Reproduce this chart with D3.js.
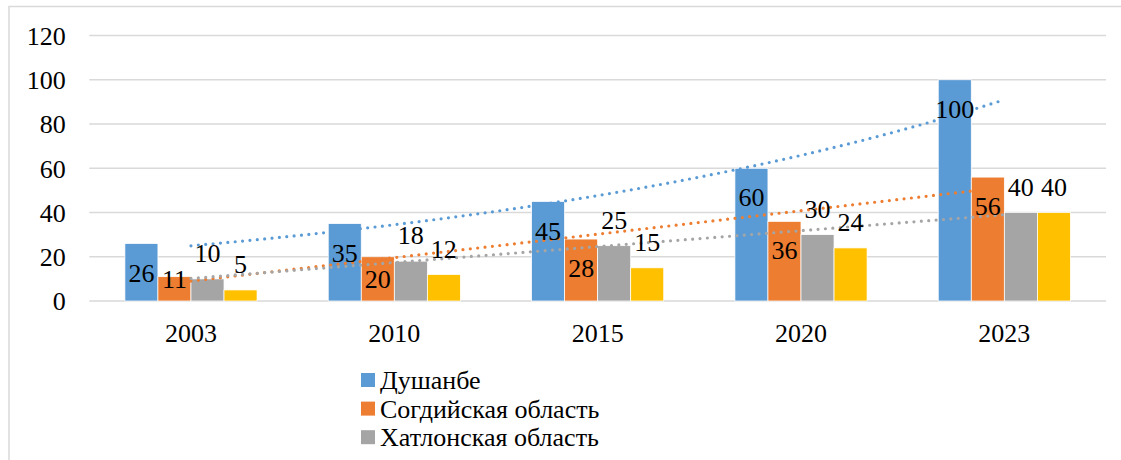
<!DOCTYPE html>
<html><head><meta charset="utf-8">
<script src="https://cdn.jsdelivr.net/npm/d3@7"></script>
<style>
html,body{margin:0;padding:0;background:#fff;}
svg text{font-family:"Liberation Serif","Times New Roman",Times,serif !important;}
</style></head>
<body><svg id="chart" width="1121" height="460"></svg>
<script>
const categories = ["2003","2010","2015","2020","2023"];
const seriesNames = ["Душанбе","Согдийская область","Хатлонская область","Прочие"];
const dushanbe = [26,35,45,60,100];
const sogd = [11,20,28,36,56];
const khatlon = [10,18,25,30,40];
const other = [5,12,15,24,40];
const yTicks = [0,20,40,60,80,100,120];
const colors = ["#5B9BD5","#ED7D31","#A5A5A5","#FFC000"];
const trendTypes = ["exp","linear","linear",null];
const legendShown = 3;

const series = [dushanbe, sogd, khatlon, other];
const FONT = "Liberation Serif";
const svg = d3.select("#chart").style("font-family",FONT);
const L = 89.3, R = 1106, T = 35.5, B = 301;
const FS = 26;

function txt(sel){ return sel.style("font-family",FONT).attr("font-size",FS).attr("fill","#000"); }

// outer frame
svg.append("rect").attr("x",9).attr("y",6.5).attr("width",1140).attr("height",480)
  .attr("fill","none").attr("stroke","#D9D9D9").attr("stroke-width",1.5);

const x0 = d3.scaleBand().domain(categories).range([L,R]).paddingInner(0.35).paddingOuter(0.175);
const x1 = d3.scaleBand().domain(d3.range(series.length)).range([0,x0.bandwidth()]);
const y = d3.scaleLinear().domain([0,120]).range([B,T]);

// gridlines
svg.append("g").selectAll("line").data(yTicks).join("line")
  .attr("x1",L).attr("x2",R).attr("y1",d=>y(d)).attr("y2",d=>y(d))
  .attr("stroke","#D9D9D9").attr("stroke-width",1.5);

// y axis labels
const yAxis = d3.axisLeft(y).tickValues(yTicks).tickSize(0).tickPadding(0);
const ya = svg.append("g").attr("transform",`translate(${65.7},0)`).call(yAxis)
  .attr("font-family",null).attr("font-size",null);
ya.select(".domain").remove();
txt(ya.selectAll("text")).attr("dy","0.34em");

// x axis labels
const xAxis = d3.axisBottom(x0).tickSize(0).tickPadding(0);
const xa = svg.append("g").attr("transform",`translate(0,${B})`).call(xAxis)
  .attr("font-family",null).attr("font-size",null);
xa.select(".domain").remove();
txt(xa.selectAll("text")).attr("dy",null).attr("y",41);

// bars
const rows = [];
categories.forEach((c,i)=>series.forEach((s,j)=>rows.push({c,i,j,v:s[i]})));
svg.append("g").selectAll("rect").data(rows).join("rect")
  .attr("x",d=>x0(d.c)+x1(d.j)).attr("width",x1.bandwidth())
  .attr("y",d=>y(d.v)).attr("height",d=>y(0)-y(d.v))
  .attr("fill",d=>colors[d.j]).attr("stroke","#fff").attr("stroke-width",0.75);

// trendlines (fit computed from series values)
const cx = i => x0(categories[0]) + x0.bandwidth()/2 + i*x0.step();
function fit(vals,type){
  const xs = vals.map((_,i)=>i+1);
  const ys = type==="exp" ? vals.map(Math.log) : vals;
  const mx = d3.mean(xs), my = d3.mean(ys);
  const b = d3.sum(xs.map((xv,i)=>(xv-mx)*(ys[i]-my))) / d3.sum(xs.map(xv=>(xv-mx)**2));
  const a = my - b*mx;
  return t => type==="exp" ? Math.exp(a+b*t) : a+b*t;
}
const line = d3.line().x(d=>d[0]).y(d=>d[1]);
series.forEach((s,j)=>{
  if(!trendTypes[j]) return;
  const f = fit(s,trendTypes[j]);
  const pts = d3.range(0,4.0001,0.05).map(t=>[cx(t), y(f(t+1))]);
  svg.append("path").attr("d",line(pts)).attr("fill","none")
    .attr("stroke",colors[j]).attr("stroke-width",3.2)
    .attr("stroke-linecap","round").attr("stroke-dasharray","0 7.4");
});

// data labels
txt(svg.append("g").selectAll("text").data(rows).join("text"))
  .attr("x",d=>x0(d.c)+x1(d.j)+x1.bandwidth()/2)
  .attr("y",d=>{
    const top = y(d.v);
    if(d.j<2) return Math.min(top+29, 279);
    return top-26;
  })
  .attr("dy","0.35em").attr("text-anchor","middle").text(d=>d.v);

// legend
const lg = svg.append("g");
seriesNames.slice(0,legendShown).forEach((name,k)=>{
  const cy = 380 + k*28.6;
  lg.append("rect").attr("x",361).attr("y",cy-7).attr("width",14).attr("height",14).attr("fill",colors[k]);
  txt(lg.append("text")).attr("x",380).attr("y",cy+9).text(name);
});
</script></body></html>
